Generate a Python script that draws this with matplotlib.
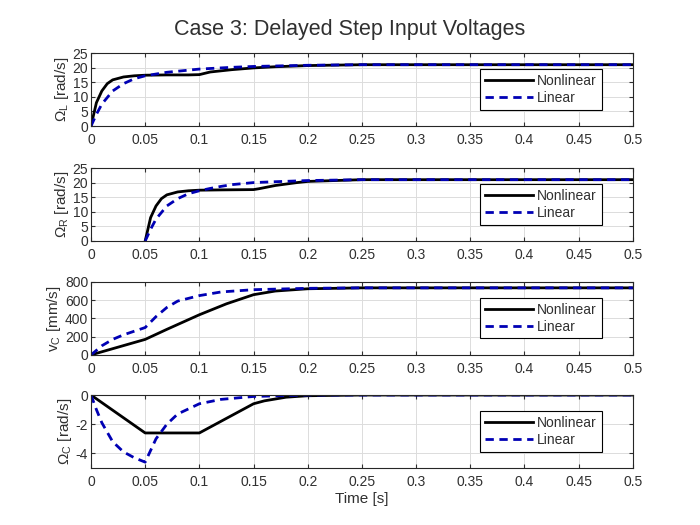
import matplotlib.pyplot as plt

plt.rcParams['font.family'] = ['Liberation Sans', 'DejaVu Sans']
plt.rcParams['mathtext.fontset'] = 'custom'
plt.rcParams['mathtext.rm'] = 'Liberation Sans'
plt.rcParams['mathtext.it'] = 'Liberation Sans'
plt.rcParams['axes.unicode_minus'] = False

# Omega_L
tL_nl = [0, 0.005, 0.01, 0.015, 0.02, 0.03, 0.04, 0.05, 0.07, 0.09, 0.1, 0.11, 0.13, 0.15, 0.17, 0.2, 0.25, 0.3, 0.5]
wL_nl = [0, 8, 12, 14.5, 15.8, 16.8, 17.2, 17.4, 17.5, 17.5, 17.6, 18.5, 19.3, 19.9, 20.3, 20.7, 21, 21, 21]
tL_lin = [0, 0.005, 0.01, 0.02, 0.03, 0.04, 0.05, 0.06, 0.07, 0.1, 0.13, 0.15, 0.2, 0.25, 0.5]
wL_lin = [0, 4, 7.5, 12, 14.5, 16.2, 17.2, 17.8, 18.4, 19.5, 20.1, 20.4, 20.8, 21, 21]

# Omega_R
tR_nl = [0.05, 0.055, 0.06, 0.065, 0.07, 0.08, 0.09, 0.1, 0.12, 0.15, 0.155, 0.17, 0.19, 0.2, 0.25, 0.5]
wR_nl = [0, 8, 12, 14.5, 15.8, 16.8, 17.2, 17.4, 17.5, 17.6, 17.9, 19, 20, 20.4, 21, 21]
tR_lin = [0.05, 0.055, 0.06, 0.07, 0.08, 0.09, 0.1, 0.11, 0.12, 0.13, 0.15, 0.17, 0.2, 0.25, 0.5]
wR_lin = [0, 4, 7.5, 12, 14.5, 16.2, 17.2, 18, 18.7, 19.3, 20, 20.3, 20.7, 21, 21]

# v_C
tv_nl = [0, 0.05, 0.07, 0.1, 0.125, 0.15, 0.17, 0.2, 0.25, 0.5]
v_nl = [0, 170, 280, 440, 560, 660, 700, 725, 735, 735]
tv_lin = [0, 0.01, 0.02, 0.03, 0.04, 0.05, 0.06, 0.07, 0.08, 0.1, 0.12, 0.15, 0.2, 0.25, 0.5]
v_lin = [0, 100, 170, 220, 260, 300, 420, 520, 590, 650, 690, 715, 730, 735, 735]

# Omega_C
tC_nl = [0, 0.05, 0.1, 0.12, 0.14, 0.15, 0.16, 0.18, 0.2, 0.25, 0.5]
wC_nl = [0, -2.6, -2.6, -1.8, -1.0, -0.6, -0.4, -0.15, -0.05, 0, 0]
tC_lin = [0, 0.005, 0.01, 0.02, 0.03, 0.04, 0.05, 0.055, 0.06, 0.07, 0.08, 0.1, 0.12, 0.15, 0.2, 0.5]
wC_lin = [0, -1, -1.9, -3.2, -3.9, -4.3, -4.6, -3.8, -3.0, -2.0, -1.3, -0.6, -0.3, -0.1, 0, 0]

ylabels = [r'$\Omega_L$ [rad/s]', r'$\Omega_R$ [rad/s]', r'$\mathrm{v}_C$ [mm/s]', r'$\Omega_C$ [rad/s]']
ylims = [(0, 25), (0, 25), (0, 800), (-5, 0)]
yticks = [[0, 5, 10, 15, 20, 25], [0, 5, 10, 15, 20, 25], [0, 200, 400, 600, 800], [-4, -2, 0]]
xticks = [0, 0.05, 0.1, 0.15, 0.2, 0.25, 0.3, 0.35, 0.4, 0.45, 0.5]
xticklabels = ['0', '0.05', '0.1', '0.15', '0.2', '0.25', '0.3', '0.35', '0.4', '0.45', '0.5']

data = [(tL_nl, wL_nl, tL_lin, wL_lin), (tR_nl, wR_nl, tR_lin, wR_lin),
        (tv_nl, v_nl, tv_lin, v_lin), (tC_nl, wC_nl, tC_lin, wC_lin)]

fig = plt.figure(figsize=(7, 5.25), dpi=100)
bottoms = [0.76, 0.541, 0.324, 0.1086]
txt = '#303030'

for i in range(4):
    ax = fig.add_axes([0.13, bottoms[i], 0.774, 0.139])
    tn, yn, tl, yl = data[i]
    ax.plot(tn, yn, color='black', lw=2, label='Nonlinear')
    ax.plot(tl, yl, color='#0000B4', lw=2, ls=(0, (3, 2)), label='Linear')
    ax.set_xlim(0, 0.5)
    ax.set_ylim(*ylims[i])
    ax.set_xticks(xticks)
    ax.set_xticklabels(xticklabels)
    ax.set_yticks(yticks[i])
    ax.grid(True, color='#DCDCDC', lw=0.7)
    ax.set_axisbelow(True)
    ax.tick_params(direction='in', labelsize=10, colors=txt, length=3, top=True, right=True)
    ax.tick_params(axis='x', pad=5)
    ax.tick_params(axis='y', pad=2)
    for s in ax.spines.values():
        s.set_linewidth(0.8)
        s.set_color('#262626')
    ax.set_ylabel(ylabels[i], fontsize=11, color=txt, labelpad=1)
    leg = ax.legend(loc='upper right', bbox_to_anchor=(0.943, 0.78), fontsize=10,
                    frameon=True, fancybox=False, edgecolor='black', framealpha=1,
                    handlelength=3.5, handletextpad=0.3, borderpad=0.35, labelspacing=0.2,
                    borderaxespad=0)
    leg.get_frame().set_linewidth(0.8)
    for t in leg.get_texts():
        t.set_color(txt)
    if i == 3:
        ax.set_xlabel('Time [s]', fontsize=11, color=txt, labelpad=2)

fig.suptitle('Case 3: Delayed Step Input Voltages', fontsize=15.5, y=0.963, color=txt)

plt.savefig('out.png', dpi=100)
